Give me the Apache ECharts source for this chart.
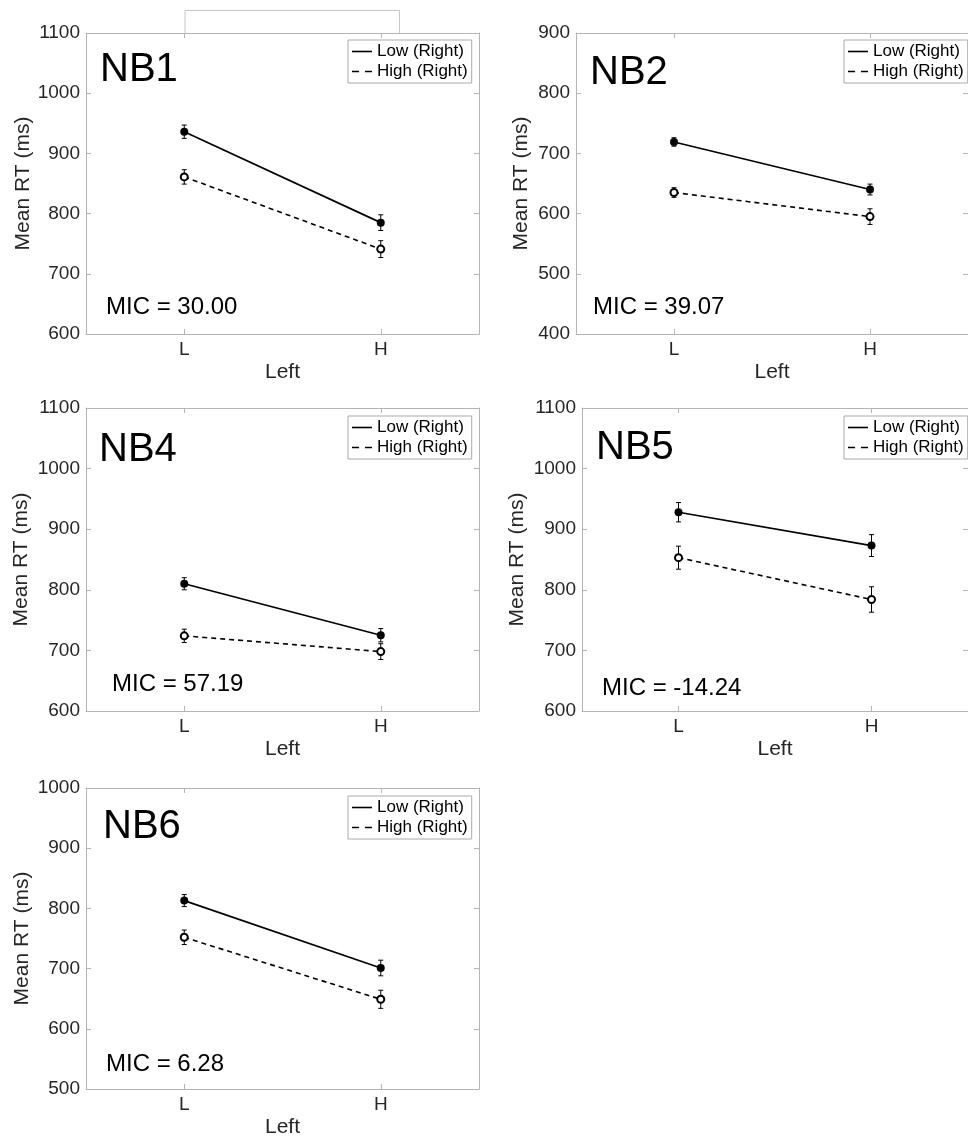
<!DOCTYPE html>
<html>
<head>
<meta charset="utf-8">
<script src="https://cdn.jsdelivr.net/npm/echarts@6/dist/echarts.min.js"></script>
<style>
html, body { margin: 0; padding: 0; background: #fff; }
#main { width: 968px; height: 1139px; }
</style>
</head>
<body>
<div id="main"></div>
<script>
// data
var categories = ['L', 'H'];
var panelNames = ['NB1', 'NB2', 'NB4', 'NB5', 'NB6'];
var micLabels = ['MIC = 30.00', 'MIC = 39.07', 'MIC = 57.19', 'MIC = -14.24', 'MIC = 6.28'];
var lowMeans = [[936, 785], [719, 640], [810, 725], [928, 873], [813, 701]];
var lowErr = [[11, 13], [7, 9], [10, 11], [16, 18], [10, 13]];
var highMeans = [[861, 741], [635, 595], [724, 698], [853, 784], [752, 649]];
var highErr = [[12, 14], [8, 13], [11, 13], [19, 21], [12, 15]];
var yMin = [600, 400, 600, 600, 500];
var yMax = [1100, 900, 1100, 1100, 1000];
var yStep = 100;
var seriesNames = ['Low (Right)', 'High (Right)'];

// layout
var grids = [
  { left: 86, top: 33, width: 393, height: 301 },
  { left: 576, top: 33, width: 398, height: 301 },
  { left: 86, top: 408, width: 393, height: 303 },
  { left: 582, top: 408, width: 394, height: 303 },
  { left: 86, top: 788, width: 393, height: 303 }
];
var yNameGap = [52, 44, 54, 54, 53];
var legendPos = [[348, 40], [844, 40], [348, 416], [844, 416], [348, 796]];
var nbPos = [[100, 70], [590, 73], [99, 450], [596, 448], [103, 827]];
var micPos = [[106, 307], [593, 307], [112, 684], [602, 688], [106, 1064]];

var font = '"Liberation Sans", Arial, Helvetica, sans-serif';
var axisColor = '#b4b4b4';
var textColor = '#262626';
var solidIcon = 'path://M0,0h20v1.6h-20z';
var dashIcon = 'path://M0,0h6v1.4h-6zM11,0h6v1.4h-6z';

function errorBars(means, errs) {
  return categories.map(function (c, j) {
    return [j, means[j] - errs[j], means[j] + errs[j]];
  });
}

function renderErrorBar(params, api) {
  var top = api.coord([api.value(0), api.value(2)]);
  var bot = api.coord([api.value(0), api.value(1)]);
  var cap = 2.5;
  var st = { stroke: '#000', lineWidth: 1 };
  return {
    type: 'group',
    children: [
      { type: 'line', shape: { x1: top[0], y1: top[1], x2: bot[0], y2: bot[1] }, style: st },
      { type: 'line', shape: { x1: top[0] - cap, y1: top[1], x2: top[0] + cap, y2: top[1] }, style: st },
      { type: 'line', shape: { x1: bot[0] - cap, y1: bot[1], x2: bot[0] + cap, y2: bot[1] }, style: st }
    ]
  };
}

var chart = echarts.init(document.getElementById('main'));
var option = {
  animation: false,
  backgroundColor: '#fff',
  textStyle: { fontFamily: font },
  grid: [],
  xAxis: [],
  yAxis: [],
  legend: [],
  series: [],
  graphic: []
};

panelNames.forEach(function (name, i) {
  option.grid.push(grids[i]);

  // bottom and top category axes (top one only closes the box)
  option.xAxis.push({
    gridIndex: i,
    type: 'category',
    data: categories,
    boundaryGap: true,
    position: 'bottom',
    axisLine: { show: true, lineStyle: { color: axisColor, width: 1 } },
    axisTick: { show: true, inside: true, alignWithLabel: true, length: 5, lineStyle: { color: axisColor } },
    axisLabel: { fontSize: 19, color: textColor, margin: 6, fontFamily: font },
    splitLine: { show: false },
    name: 'Left',
    nameLocation: 'middle',
    nameGap: 28,
    nameTextStyle: { fontSize: 21, color: textColor, fontFamily: font }
  });
  option.xAxis.push({
    gridIndex: i,
    type: 'category',
    data: categories,
    boundaryGap: true,
    position: 'top',
    axisLine: { show: true, lineStyle: { color: axisColor, width: 1 } },
    axisTick: { show: true, inside: true, alignWithLabel: true, length: 5, lineStyle: { color: axisColor } },
    axisLabel: { show: false },
    splitLine: { show: false }
  });

  option.yAxis.push({
    gridIndex: i,
    type: 'value',
    min: yMin[i],
    max: yMax[i],
    interval: yStep,
    position: 'left',
    axisLine: { show: true, lineStyle: { color: axisColor, width: 1 } },
    axisTick: { show: true, inside: true, length: 5, lineStyle: { color: axisColor } },
    axisLabel: { fontSize: 19, color: textColor, margin: 6, fontFamily: font, formatter: function (v) { return String(v); } },
    splitLine: { show: false },
    name: 'Mean RT (ms)',
    nameLocation: 'middle',
    nameRotate: 90,
    nameGap: yNameGap[i],
    nameTextStyle: { fontSize: 21, color: textColor, fontFamily: font }
  });
  option.yAxis.push({
    gridIndex: i,
    type: 'value',
    min: yMin[i],
    max: yMax[i],
    interval: yStep,
    position: 'right',
    axisLine: { show: true, lineStyle: { color: axisColor, width: 1 } },
    axisTick: { show: true, inside: true, length: 5, lineStyle: { color: axisColor } },
    axisLabel: { show: false },
    splitLine: { show: false }
  });

  var xi = 2 * i, yi = 2 * i;

  // error bars under the markers
  option.series.push({
    type: 'custom',
    xAxisIndex: xi,
    yAxisIndex: yi,
    z: 1,
    renderItem: renderErrorBar,
    encode: { x: 0, y: [1, 2] },
    data: errorBars(lowMeans[i], lowErr[i]),
    silent: true
  });
  option.series.push({
    type: 'custom',
    xAxisIndex: xi,
    yAxisIndex: yi,
    z: 1,
    renderItem: renderErrorBar,
    encode: { x: 0, y: [1, 2] },
    data: errorBars(highMeans[i], highErr[i]),
    silent: true
  });

  option.series.push({
    name: seriesNames[0],
    type: 'line',
    xAxisIndex: xi,
    yAxisIndex: yi,
    z: 3,
    data: lowMeans[i],
    symbol: 'circle',
    symbolSize: 8,
    itemStyle: { color: '#000' },
    lineStyle: { color: '#000', width: 1.7 }
  });
  option.series.push({
    name: seriesNames[1],
    type: 'line',
    xAxisIndex: xi,
    yAxisIndex: yi,
    z: 3,
    data: highMeans[i],
    symbol: 'emptyCircle',
    symbolSize: 7,
    itemStyle: { color: '#000', borderWidth: 1.2 },
    lineStyle: { color: '#000', width: 1.6, type: [5, 4] }
  });

  option.legend.push({
    orient: 'vertical',
    left: legendPos[i][0],
    top: legendPos[i][1],
    padding: [3, 4, 3, 4],
    itemGap: 3,
    itemWidth: 20,
    itemHeight: 15,
    borderColor: '#aaa',
    borderWidth: 1,
    backgroundColor: '#fff',
    selectedMode: false,
    textStyle: { fontSize: 17, color: '#000', fontFamily: font },
    data: [
      { name: seriesNames[0], icon: solidIcon, itemStyle: { color: '#000', borderWidth: 0 } },
      { name: seriesNames[1], icon: dashIcon, itemStyle: { color: '#000', borderWidth: 0 } }
    ]
  });

  option.graphic.push({
    type: 'text',
    x: nbPos[i][0],
    y: nbPos[i][1],
    style: { text: name, fontSize: 40, fontFamily: font, fill: '#000', verticalAlign: 'middle' }
  });
  option.graphic.push({
    type: 'text',
    x: micPos[i][0],
    y: micPos[i][1],
    style: { text: micLabels[i], fontSize: 24, fontFamily: font, fill: '#000', verticalAlign: 'middle' }
  });
});

// stray box above the first panel
option.graphic.push({
  type: 'polyline',
  shape: { points: [[185, 33], [185, 10.5], [399.5, 10.5], [399.5, 33]] },
  style: { stroke: '#c8c8c8', fill: null, lineWidth: 1 }
});

chart.setOption(option);
</script>
</body>
</html>
